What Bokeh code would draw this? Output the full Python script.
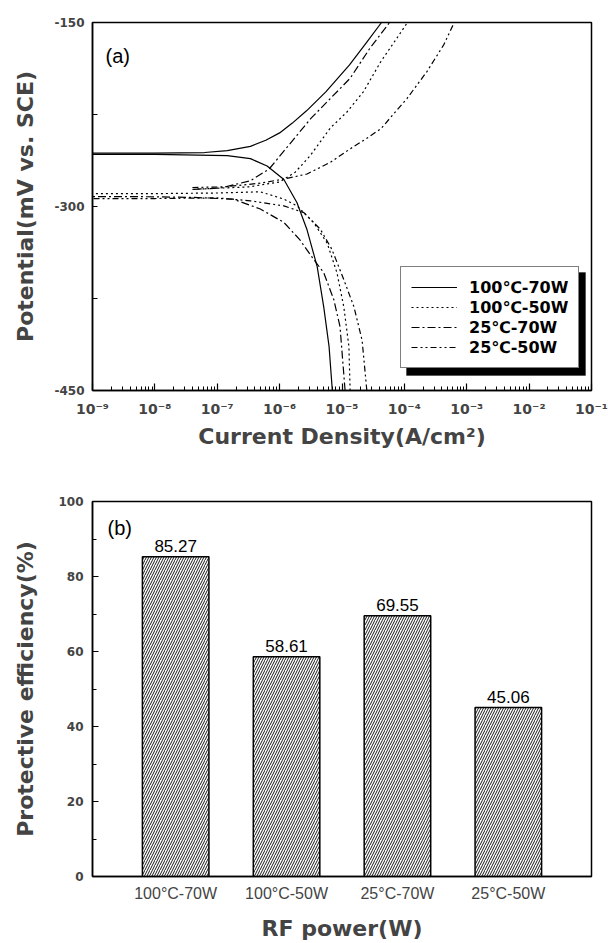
from bokeh.plotting import figure
from bokeh.models import Range1d, FixedTicker, Legend, LegendItem, Label, BoxAnnotation
from bokeh.layouts import column
from bokeh.embed import file_html
from bokeh.resources import INLINE
from bokeh.core.properties import value

# ---------------- Panel (a): polarization curves ----------------
series_names = ["100℃-70W", "100℃-50W", "25℃-70W", "25℃-50W"]

# 100℃-70W (solid)
cath_i_100_70 = [7.0e-6, 6.2e-6, 5.1e-6, 4.0e-6, 2.75e-6, 1.9e-6, 1.17e-6, 6.3e-7, 3.4e-7, 1.45e-7, 1.0e-8, 1.0e-9]
cath_E_100_70 = [-450, -414, -382, -349, -319, -297, -278, -267, -261, -258.5, -257.5, -257.5]
anod_i_100_70 = [1.0e-9, 1.0e-8, 6.3e-8, 1.45e-7, 3.4e-7, 6.0e-7, 1.0e-6, 1.6e-6, 2.7e-6, 5.5e-6, 1.32e-5, 2.5e-5, 4.3e-5]
anod_E_100_70 = [-256.5, -256.5, -256, -254.4, -251, -246, -240, -232, -222, -206.5, -184.6, -166, -150]

# 100℃-50W (dotted)
cath_i_100_50 = [1.35e-5, 1.29e-5, 1.07e-5, 8.3e-6, 5.8e-6, 3.5e-6, 1.9e-6, 1.17e-6, 4.9e-7, 1.0e-7, 1.0e-8, 1.0e-9]
cath_E_100_50 = [-450, -414, -382, -354, -330, -313, -299.5, -294, -288, -289, -289.5, -289.5]
anod_i_100_50 = [4.0e-8, 3.2e-7, 1.0e-6, 1.78e-6, 3.1e-6, 6.5e-6, 1.2e-5, 2.2e-5, 4.2e-5, 7.6e-5, 1.12e-4]
anod_E_100_50 = [-286, -284, -280, -272, -258.5, -236, -223, -206.5, -181.8, -162.7, -150]

# 25℃-70W (dash-dot)
cath_i_25_70 = [1.12e-5, 9.3e-6, 7.4e-6, 5.1e-6, 3.5e-6, 2.1e-6, 1.17e-6, 4.9e-7, 1.8e-7, 4.2e-8, 6.3e-9, 1.0e-9]
cath_E_25_70 = [-450, -398, -376, -354, -343, -327, -313, -302, -294, -292.6, -292, -292]
anod_i_25_70 = [4.2e-8, 1.12e-7, 3.4e-7, 6.8e-7, 1.7e-6, 3.2e-6, 6.5e-6, 1.35e-5, 2.8e-5, 5.8e-5]
anod_E_25_70 = [-286, -285, -279, -269.4, -244.8, -228, -212, -195.5, -171, -150]

# 25℃-50W (dash-dot-dot)
cath_i_25_50 = [2.5e-5, 2.1e-5, 1.55e-5, 1.07e-5, 6.9e-6, 4.5e-6, 2.45e-6, 1.17e-6, 3.4e-7, 1.0e-7, 1.0e-8, 1.0e-9]
cath_E_25_50 = [-450, -409, -381.6, -359.7, -335, -318.6, -305, -299.5, -295.4, -293, -293.5, -293.5]
anod_i_25_50 = [4.0e-8, 1.26e-7, 4.9e-7, 1.17e-6, 2.75e-6, 6.5e-6, 1.35e-5, 2.4e-5, 4.2e-5, 1.1e-4, 2.3e-4, 4.3e-4, 6.3e-4]
anod_E_25_50 = [-284.5, -284, -281, -277.6, -273.5, -264, -253, -245, -236.6, -212, -190, -168, -150]

x_ticks_a = [1e-9, 1e-8, 1e-7, 1e-6, 1e-5, 1e-4, 1e-3, 1e-2, 1e-1]
x_tick_labels_a = ["10⁻⁹", "10⁻⁸", "10⁻⁷", "10⁻⁶", "10⁻⁵", "10⁻⁴", "10⁻³", "10⁻²", "10⁻¹"]
y_ticks_a = [-450, -300, -150]
y_tick_labels_a = ["-450", "-300", "-150"]
y_minor_a = [-375, -225]

# ---------------- Panel (b): protective efficiency ----------------
categories = ["100°C-70W", "100°C-50W", "25°C-70W", "25°C-50W"]
efficiency = [85.27, 58.61, 69.55, 45.06]
y_ticks_b = [0, 20, 40, 60, 80, 100]

BOLD = "DejaVu Sans"
REG = "Liberation Sans"

# ================= figure (a) =================
p1 = figure(width=608, height=470, x_axis_type="log",
            x_range=Range1d(1e-9, 1e-1), y_range=Range1d(-450, -150),
            output_backend="svg", toolbar_location=None,
            min_border_left=92, min_border_right=17, min_border_top=22, min_border_bottom=80)
p1.grid.visible = False
p1.outline_line_color = "black"
p1.outline_line_width = 1.5
p1.background_fill_color = "white"
p1.border_fill_color = "white"

series = [
    (cath_i_100_70, cath_E_100_70, anod_i_100_70, anod_E_100_70, "solid"),
    (cath_i_100_50, cath_E_100_50, anod_i_100_50, anod_E_100_50, "2 3"),
    (cath_i_25_70, cath_E_25_70, anod_i_25_70, anod_E_25_70, "8 3 2 3"),
    (cath_i_25_50, cath_E_25_50, anod_i_25_50, anod_E_25_50, "6 3 2 3 2 3"),
]
renderers = []
for ci, ce, ai, ae, dash in series:
    r = p1.multi_line(xs=[ci, ai], ys=[ce, ae], line_color="black",
                      line_width=1.2, line_dash=dash)
    renderers.append(r)

minor_x = [m * t for t in x_ticks_a[:-1] for m in range(2, 10)]
xa = p1.xaxis[0]
xa.ticker = FixedTicker(ticks=x_ticks_a, minor_ticks=minor_x)
xa.major_label_overrides = dict(zip(x_ticks_a, x_tick_labels_a))
xa.major_tick_in = 7
xa.major_tick_out = 0
xa.minor_tick_in = 4
xa.minor_tick_out = 0
xa.axis_line_width = 1.5
xa.major_tick_line_width = 1.2
xa.minor_tick_line_width = 1.0
xa.major_label_text_font = BOLD
xa.major_label_text_font_style = "bold"
xa.major_label_text_font_size = "14px"
xa.major_label_standoff = 10
xa.axis_label = "Current Density(A/cm²)"
xa.axis_label_text_font = BOLD
xa.axis_label_text_font_style = "bold"
xa.axis_label_text_font_size = "22px"
xa.axis_label_standoff = 4

ya = p1.yaxis[0]
ya.ticker = FixedTicker(ticks=y_ticks_a, minor_ticks=y_minor_a)
ya.major_label_overrides = dict(zip(y_ticks_a, y_tick_labels_a))
ya.major_tick_in = 5
ya.major_tick_out = 0
ya.minor_tick_in = 5
ya.minor_tick_out = 0
ya.axis_line_width = 1.5
ya.major_label_text_font = BOLD
ya.major_label_text_font_style = "bold"
ya.major_label_text_font_size = "12px"
ya.major_label_standoff = 8
ya.axis_label = "Potential(mV vs. SCE)"
ya.axis_label_text_font = BOLD
ya.axis_label_text_font_style = "bold"
ya.axis_label_text_font_size = "22px"
ya.axis_label_standoff = 13

p1.add_layout(Label(x=13, y=335, x_units="screen", y_units="screen",
                    text="(a)", text_align="left", text_baseline="middle",
                    text_font=REG, text_font_size="20px", text_color="black"))

# legend with a drop shadow
p1.add_layout(BoxAnnotation(left=314, right=493, bottom=15, top=118,
                            left_units="screen", right_units="screen",
                            bottom_units="screen", top_units="screen",
                            fill_color="black", fill_alpha=1.0, line_color="black"))
legend = Legend(items=[LegendItem(label=n, renderers=[r]) for n, r in zip(series_names, renderers)],
                location=(308, 22), background_fill_color="white", background_fill_alpha=1.0,
                border_line_color="black", border_line_width=1.5, label_text_color="black",
                glyph_width=46, glyph_height=20, label_height=20, label_width=96,
                label_standoff=12, padding=10, spacing=0,
                label_text_font=BOLD, label_text_font_style="bold", label_text_font_size="16px")
p1.add_layout(legend, "center")

# ================= figure (b) =================
xs_b = list(range(len(categories)))
p2 = figure(width=608, height=473, x_range=Range1d(-0.75, len(categories) - 0.25),
            y_range=Range1d(0, 100), output_backend="svg", toolbar_location=None,
            min_border_left=92, min_border_right=4, min_border_top=31, min_border_bottom=66)
p2.grid.visible = False
p2.outline_line_color = "black"
p2.outline_line_width = 1.5
p2.vbar(x=xs_b, top=efficiency, width=0.6, bottom=0,
        fill_color="white", line_color="black", line_width=1.5,
        hatch_pattern="/", hatch_color="black", hatch_scale=5, hatch_weight=0.9)
p2.text(x=xs_b, y=efficiency, text=[f"{v:.2f}" for v in efficiency],
        text_align="center", text_baseline="bottom", y_offset=-5,
        text_font=value(REG), text_font_size="17px", text_color="black")

xb = p2.xaxis[0]
xb.ticker = FixedTicker(ticks=xs_b)
xb.major_label_overrides = dict(zip(xs_b, categories))
xb.major_tick_in = 0
xb.major_tick_out = 0
xb.minor_tick_in = 0
xb.minor_tick_out = 0
xb.axis_line_width = 1.5
xb.major_label_text_font = REG
xb.major_label_text_font_size = "16px"
xb.major_label_standoff = 8
xb.axis_label = "RF power(W)"
xb.axis_label_text_font = BOLD
xb.axis_label_text_font_style = "bold"
xb.axis_label_text_font_size = "22px"
xb.axis_label_standoff = 11

yb = p2.yaxis[0]
yb.ticker = FixedTicker(ticks=y_ticks_b, minor_ticks=[10, 30, 50, 70, 90])
yb.major_tick_in = 6
yb.major_tick_out = 0
yb.minor_tick_in = 4
yb.minor_tick_out = 0
yb.axis_line_width = 1.5
yb.major_label_text_font = BOLD
yb.major_label_text_font_style = "bold"
yb.major_label_text_font_size = "12px"
yb.major_label_standoff = 9
yb.axis_label = "Protective efficiency(%)"
yb.axis_label_text_font = BOLD
yb.axis_label_text_font_style = "bold"
yb.axis_label_text_font_size = "22px"
yb.axis_label_standoff = 17

p2.add_layout(Label(x=15, y=349, x_units="screen", y_units="screen",
                    text="(b)", text_align="left", text_baseline="middle",
                    text_font=REG, text_font_size="20px", text_color="black"))

layout = column(p1, p2, spacing=0)
open("out.html", "w").write(file_html(layout, INLINE))
